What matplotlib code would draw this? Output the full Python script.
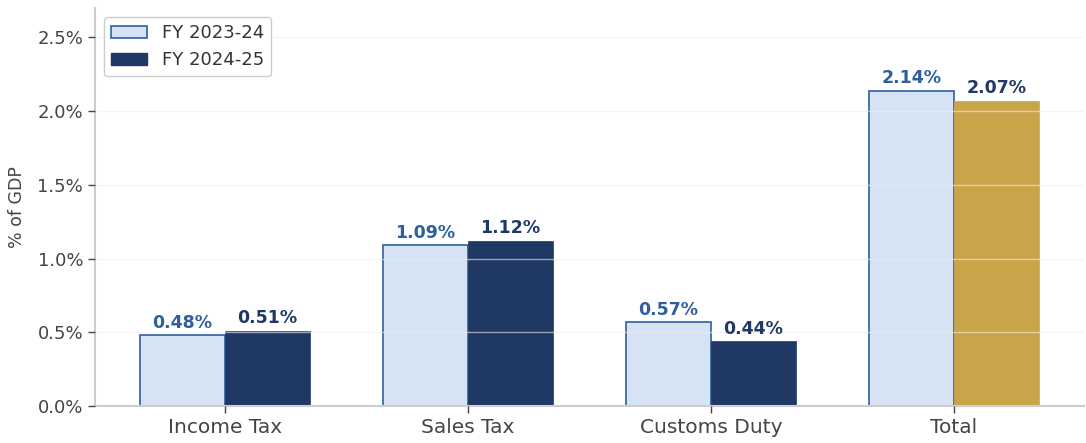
import matplotlib
matplotlib.use("Agg")
import matplotlib.pyplot as plt
import numpy as np
from matplotlib.patches import Patch

categories = ["Income Tax", "Sales Tax", "Customs Duty", "Total"]
fy2324 = [0.48, 1.09, 0.57, 2.14]
fy2425 = [0.51, 1.12, 0.44, 2.07]
series_names = ["FY 2023-24", "FY 2024-25"]

light = "#D5E3F5"
light_edge = "#2F5F9F"
dark = "#1F3864"
gold = "#C9A54A"

fig = plt.figure(figsize=(10.86, 4.43), dpi=100)
ax = fig.add_axes([0.0875, 0.0835, 0.9105, 0.8985])

x = np.arange(len(categories))
w = 0.35
b1 = ax.bar(x - w/2, fy2324, w, color=light, edgecolor=light_edge, linewidth=1.2, label=series_names[0])
colors2 = [dark, dark, dark, gold]
b2 = ax.bar(x + w/2, fy2425, w, color=colors2, edgecolor=colors2, linewidth=0.5, label=series_names[1])

for rect, v in zip(b1, fy2324):
    ax.annotate(f"{v:.2f}%", (rect.get_x() + rect.get_width()/2, v), xytext=(0, 2.5),
                textcoords="offset points", ha="center", va="bottom",
                fontsize=12.5, fontweight="bold", color=light_edge)
for rect, v in zip(b2, fy2425):
    ax.annotate(f"{v:.2f}%", (rect.get_x() + rect.get_width()/2, v), xytext=(0, 2.5),
                textcoords="offset points", ha="center", va="bottom",
                fontsize=12.5, fontweight="bold", color=dark)

ax.set_ylim(0, 2.7)
ticks = [0, 0.5, 1.0, 1.5, 2.0, 2.5]
ax.set_yticks(ticks)
ax.set_yticklabels([f"{t:.1f}%" for t in ticks])
ax.set_xticks(x)
ax.set_xticklabels(categories)
ax.tick_params(axis="x", labelsize=14.5, colors="#444444", length=5, width=1)
ax.tick_params(axis="y", labelsize=13, colors="#444444", length=5, width=1)
for lab in ax.get_xticklabels() + ax.get_yticklabels():
    lab.set_color("#444444")
ax.set_ylabel("% of GDP", fontsize=12.5, color="#444444", labelpad=8)

ax.set_axisbelow(False)
ax.grid(axis="y", color="#eeeeee", linewidth=1, alpha=0.6)
for s in ["top", "right"]:
    ax.spines[s].set_visible(False)
for s in ["left", "bottom"]:
    ax.spines[s].set_color("#cccccc")
    ax.spines[s].set_linewidth(1.5)

handles = [Patch(facecolor=light, edgecolor=light_edge, linewidth=1.2), Patch(facecolor=dark, edgecolor=dark)]
leg = ax.legend(handles, series_names, loc="upper left", fontsize=13, frameon=True, framealpha=1,
                edgecolor="#cccccc", borderaxespad=0.5)
for t in leg.get_texts():
    t.set_color("#333333")

fig.savefig("out.png", dpi=100)
